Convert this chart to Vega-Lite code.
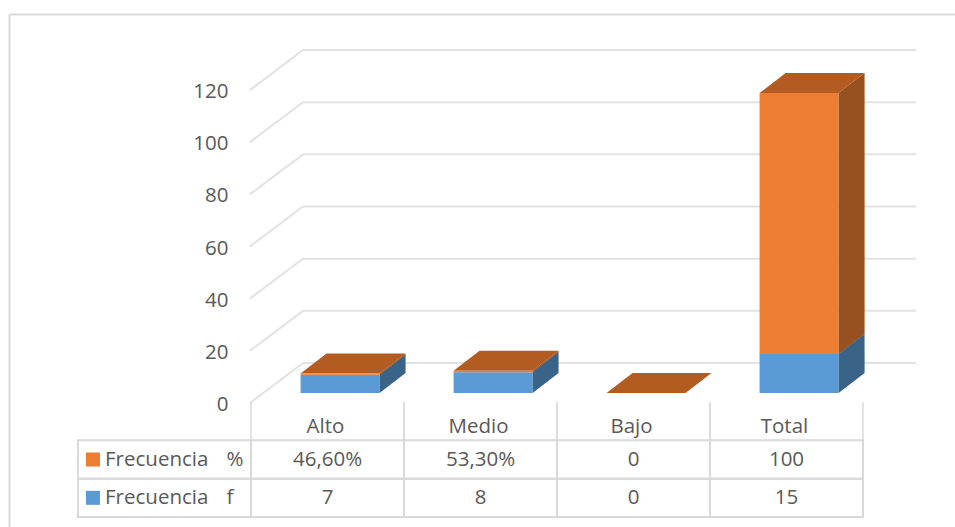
{
  "$schema": "https://vega.github.io/schema/vega-lite/v6.json",
  "width": 955,
  "height": 527,
  "autosize": "none",
  "padding": 0,
  "background": "white",
  "config": {"view": {"stroke": null}, "font": "Open Sans"},
  "datasets": {
    "frecuencias": [
      {"categoria": "Alto", "indice": 0, "serie": "Frecuencia f", "clave": "Frecuencia\u00a0\u00a0\u00a0\u200af", "valor": 7, "etiqueta": "7"},
      {"categoria": "Medio", "indice": 1, "serie": "Frecuencia f", "clave": "Frecuencia\u00a0\u00a0\u00a0\u200af", "valor": 8, "etiqueta": "8"},
      {"categoria": "Bajo", "indice": 2, "serie": "Frecuencia f", "clave": "Frecuencia\u00a0\u00a0\u00a0\u200af", "valor": 0, "etiqueta": "0"},
      {"categoria": "Total", "indice": 3, "serie": "Frecuencia f", "clave": "Frecuencia\u00a0\u00a0\u00a0\u200af", "valor": 15, "etiqueta": "15"},
      {"categoria": "Alto", "indice": 0, "serie": "Frecuencia %", "clave": "Frecuencia\u00a0\u00a0\u00a0\u200a%", "valor": 0.466, "etiqueta": "46,60%"},
      {"categoria": "Medio", "indice": 1, "serie": "Frecuencia %", "clave": "Frecuencia\u00a0\u00a0\u00a0\u200a%", "valor": 0.533, "etiqueta": "53,30%"},
      {"categoria": "Bajo", "indice": 2, "serie": "Frecuencia %", "clave": "Frecuencia\u00a0\u00a0\u00a0\u200a%", "valor": 0, "etiqueta": "0"},
      {"categoria": "Total", "indice": 3, "serie": "Frecuencia %", "clave": "Frecuencia\u00a0\u00a0\u00a0\u200a%", "valor": 100, "etiqueta": "100"}
    ],
    "marcas": [{"marca": 0}, {"marca": 20}, {"marca": 40}, {"marca": 60}, {"marca": 80}, {"marca": 100}, {"marca": 120}]
  },
  "resolve": {"scale": {"y": "independent"}},
  "layer": [
    {
      "layer": [
        {
          "data": {"values": [{}]},
          "mark": {"type": "rule", "color": "#d9d9d9", "strokeWidth": 2},
          "encoding": {
            "x": {"datum": -1.578, "type": "quantitative", "scale": {"domain": [-1.6405, 4.6013], "range": [0, 955], "nice": false, "zero": false}, "axis": null},
            "y": {"datum": 145.1, "type": "quantitative", "scale": {"domain": [-51.38, 150.69], "range": [527, 0], "nice": false, "zero": false},
              "axis": {"orient": "left", "values": [0, 20, 40, 60, 80, 100, 120], "title": null, "domain": false, "ticks": false, "grid": false,
                "offset": -228, "labelPadding": 0, "labelOffset": 11.5, "labelFont": "Open Sans", "labelFontSize": 20.5, "labelColor": "#595959", "labelAlign": "right"}},
            "y2": {"datum": -51.38}
          }
        },
        {
          "data": {"values": [{}]},
          "mark": {"type": "rule", "color": "#d9d9d9", "strokeWidth": 2},
          "encoding": {
            "x": {"datum": -1.578, "type": "quantitative"},
            "x2": {"datum": 4.6013},
            "y": {"datum": 145.1, "type": "quantitative"}
          }
        },
        {
          "data": {"name": "marcas"},
          "transform": [
            {"calculate": "datum.marca - 3.83", "as": "frente"},
            {"calculate": "datum.marca + 11.5", "as": "fondo"}
          ],
          "mark": {"type": "rule", "color": "#e2e2e2", "strokeWidth": 2},
          "encoding": {
            "x": {"datum": -0.007, "type": "quantitative"},
            "x2": {"datum": 0.34},
            "y": {"field": "frente", "type": "quantitative"},
            "y2": {"field": "fondo"}
          }
        },
        {
          "data": {"name": "marcas"},
          "transform": [{"calculate": "datum.marca + 11.5", "as": "fondo"}],
          "mark": {"type": "rule", "color": "#e2e2e2", "strokeWidth": 2},
          "encoding": {
            "x": {"datum": 0.34, "type": "quantitative"},
            "x2": {"datum": 4.346},
            "y": {"field": "fondo", "type": "quantitative"}
          }
        },
        {
          "data": {"name": "frecuencias"},
          "transform": [
            {"stack": "valor", "groupby": ["categoria"], "sort": [{"field": "serie", "order": "descending"}], "as": ["base", "cima"]},
            {"calculate": "datum.indice + 0.84", "as": "arista_frente"},
            {"calculate": "datum.indice + 1.01", "as": "arista_fondo"},
            {"fold": ["arista_frente", "arista_fondo"], "as": ["arista", "posicion"]},
            {"calculate": "datum.base + (datum.arista === 'arista_fondo' ? 7.7 : 0)", "as": "lado_base"},
            {"calculate": "datum.cima + (datum.arista === 'arista_fondo' ? 7.7 : 0)", "as": "lado_cima"}
          ],
          "layer": [
            {
              "mark": {"type": "area", "orient": "vertical"},
              "encoding": {
                "x": {"field": "posicion", "type": "quantitative"},
                "y": {"field": "lado_base", "type": "quantitative", "stack": null},
                "y2": {"field": "lado_cima"},
                "detail": {"field": "categoria"},
                "color": {"field": "serie", "type": "nominal", "scale": {"domain": ["Frecuencia %", "Frecuencia f"], "range": ["#ed7d31", "#5b9bd5"]}, "legend": null}
              }
            },
            {
              "mark": {"type": "area", "orient": "vertical", "color": "#000000", "opacity": 0.36},
              "encoding": {
                "x": {"field": "posicion", "type": "quantitative"},
                "y": {"field": "lado_base", "type": "quantitative", "stack": null},
                "y2": {"field": "lado_cima"},
                "detail": [{"field": "categoria"}, {"field": "serie"}]
              }
            }
          ]
        },
        {
          "data": {"name": "frecuencias"},
          "transform": [
            {"stack": "valor", "groupby": ["categoria"], "sort": [{"field": "serie", "order": "descending"}], "as": ["base", "cima"]},
            {"filter": "datum.serie === 'Frecuencia %'"},
            {"calculate": "datum.cima", "as": "borde_frente"},
            {"calculate": "datum.cima + 7.7", "as": "borde_fondo"},
            {"fold": ["borde_frente", "borde_fondo"], "as": ["borde", "altura"]},
            {"calculate": "datum.indice + 0.324 + (datum.borde === 'borde_fondo' ? 0.17 : 0)", "as": "desde"},
            {"calculate": "datum.desde + 0.516", "as": "hasta"}
          ],
          "mark": {"type": "area", "orient": "horizontal", "color": "#b25c22"},
          "encoding": {
            "y": {"field": "altura", "type": "quantitative"},
            "x": {"field": "desde", "type": "quantitative", "stack": null},
            "x2": {"field": "hasta"},
            "detail": {"field": "categoria"}
          }
        },
        {
          "data": {"name": "frecuencias"},
          "transform": [
            {"stack": "valor", "groupby": ["categoria"], "sort": [{"field": "serie", "order": "descending"}], "as": ["base", "cima"]},
            {"calculate": "datum.indice + 0.324", "as": "izquierda"},
            {"calculate": "datum.indice + 0.84", "as": "derecha"}
          ],
          "mark": {"type": "rect"},
          "encoding": {
            "x": {"field": "izquierda", "type": "quantitative"},
            "x2": {"field": "derecha"},
            "y": {"field": "base", "type": "quantitative"},
            "y2": {"field": "cima"},
            "color": {"field": "serie", "type": "nominal", "legend": null}
          }
        }
      ]
    },
    {
      "data": {"name": "frecuencias"},
      "transform": [
        {"calculate": "datum.indice + 1", "as": "siguiente"},
        {"calculate": "datum.indice + 0.5", "as": "centro"},
        {"calculate": "'cabecera'", "as": "cabecera"}
      ],
      "layer": [
        {
          "mark": {"type": "rect", "fillOpacity": 0, "stroke": "#d9d9d9", "strokeWidth": 2},
          "encoding": {
            "x": {"field": "indice", "type": "quantitative"},
            "x2": {"field": "siguiente"},
            "y": {"field": "serie", "type": "nominal", "scale": {"domain": ["cabecera", "Frecuencia %", "Frecuencia f"], "range": [402, 517], "paddingInner": 0, "paddingOuter": 0}, "axis": null}
          }
        },
        {
          "transform": [{"filter": "datum.indice === 0"}],
          "mark": {"type": "rect", "fillOpacity": 0, "stroke": "#d9d9d9", "strokeWidth": 2},
          "encoding": {
            "x": {"datum": -1.131, "type": "quantitative"},
            "x2": {"datum": 0},
            "y": {"field": "serie", "type": "nominal"}
          }
        },
        {
          "transform": [{"filter": "datum.serie === 'Frecuencia f'"}],
          "mark": {"type": "tick", "color": "#d9d9d9", "thickness": 2, "size": 38, "orient": "vertical"},
          "encoding": {
            "x": {"field": "indice", "type": "quantitative"},
            "y": {"field": "cabecera", "type": "nominal"}
          }
        },
        {
          "transform": [{"filter": "datum.serie === 'Frecuencia f'"}],
          "mark": {"type": "tick", "color": "#d9d9d9", "thickness": 2, "size": 38, "orient": "vertical"},
          "encoding": {
            "x": {"field": "siguiente", "type": "quantitative"},
            "y": {"field": "cabecera", "type": "nominal"}
          }
        },
        {
          "transform": [{"filter": "datum.serie === 'Frecuencia f'"}],
          "mark": {"type": "text", "font": "Open Sans", "fontSize": 20.5, "color": "#595959", "dy": 6, "dx": -2},
          "encoding": {
            "x": {"field": "centro", "type": "quantitative"},
            "y": {"field": "cabecera", "type": "nominal"},
            "text": {"field": "categoria"}
          }
        },
        {
          "mark": {"type": "text", "font": "Open Sans", "fontSize": 20.5, "color": "#595959"},
          "encoding": {
            "x": {"field": "centro", "type": "quantitative"},
            "y": {"field": "serie", "type": "nominal"},
            "text": {"field": "etiqueta"}
          }
        },
        {
          "transform": [{"filter": "datum.indice === 0"}],
          "mark": {"type": "point", "shape": "square", "filled": true, "size": 196, "opacity": 1},
          "encoding": {
            "x": {"datum": -1.033, "type": "quantitative"},
            "y": {"field": "serie", "type": "nominal"},
            "color": {"field": "serie", "type": "nominal", "legend": null}
          }
        },
        {
          "transform": [{"filter": "datum.indice === 0"}],
          "mark": {"type": "text", "font": "Open Sans", "fontSize": 20.5, "color": "#595959", "align": "left"},
          "encoding": {
            "x": {"datum": -0.954, "type": "quantitative"},
            "y": {"field": "serie", "type": "nominal"},
            "text": {"field": "clave"}
          }
        }
      ]
    }
  ]
}
